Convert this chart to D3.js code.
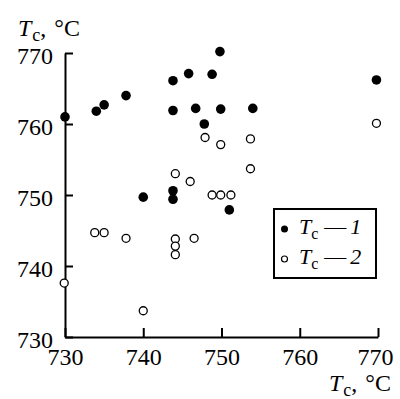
<!DOCTYPE html>
<html>
<head>
<meta charset="utf-8">
<script src="https://cdn.jsdelivr.net/npm/d3@7"></script>
<style>
  body { margin: 0; background: #fff; }
  svg text { font-family: "Liberation Serif", "DejaVu Serif", serif; fill: #000; }
</style>
</head>
<body>
<svg id="chart" width="400" height="399"></svg>
<script>
// Tc - 1 (filled) and Tc - 2 (open) points
const series1X = [730, 734, 735, 737.8, 743.8, 745.8, 743.8, 746.7, 749.8, 748.8, 749.9, 754, 747.8, 769.8, 740, 743.8, 743.8, 751];
const series1Y = [761, 761.8, 762.7, 764, 766.1, 767.1, 761.9, 762.2, 770.2, 767, 762.1, 762.2, 760, 766.2, 749.7, 750.6, 749.4, 747.9];
const series2X = [747.9, 749.9, 753.7, 753.7, 769.8, 748.8, 749.9, 751.2, 744.1, 746, 733.8, 735, 737.8, 744.1, 744.1, 744.1, 746.5, 729.9, 740];
const series2Y = [758.1, 757.1, 757.9, 753.7, 760.1, 750, 750, 750, 753, 751.9, 744.7, 744.7, 743.9, 743.8, 742.8, 741.6, 743.9, 737.6, 733.7];
const xTicks = [730, 740, 750, 760, 770];
const yTicks = [730, 740, 750, 760, 770];

const svg = d3.select("#chart");
const margin = {left: 65, right: 22, top: 53, bottom: 62};
const W = 400, H = 399;

const x = d3.scaleLinear().domain([730, 770]).range([margin.left, W - margin.right]);
const y = d3.scaleLinear().domain([730, 770]).range([H - margin.bottom, margin.top]);

// axes, ticks point inward
const xAxis = svg.append("g")
    .attr("transform", `translate(0,${H - margin.bottom})`)
    .call(d3.axisBottom(x).tickValues(xTicks).tickSize(-9).tickPadding(16).tickSizeOuter(0));
const yAxis = svg.append("g")
    .attr("transform", `translate(${margin.left},0)`)
    .call(d3.axisLeft(y).tickValues(yTicks).tickSize(-8).tickPadding(12).tickSizeOuter(0));

[xAxis, yAxis].forEach(g => {
  g.select(".domain").attr("stroke", "#000").attr("stroke-width", 2);
  g.selectAll(".tick line").attr("stroke", "#000").attr("stroke-width", 2);
  g.selectAll(".tick text")
      .style("font-family", "Liberation Serif")
      .style("font-size", "24px")
      .attr("fill", "#000");
});
yAxis.selectAll(".tick text").attr("dy", "0.45em");
xAxis.selectAll(".tick text").attr("dy", "0.5em");
xAxis.selectAll(".tick text").filter(d => d === 770).attr("dx", -3);

// axis titles
function unitLabel(sel, xPos, yPos) {
  const t = sel.append("text")
      .attr("x", xPos)
      .attr("y", yPos)
      .style("font-size", "24px");
  t.append("tspan").style("font-style", "italic").text("T");
  t.append("tspan").attr("dy", 5).attr("dx", 1).style("font-size", "18px").text("c");
  t.append("tspan").attr("dy", -5).text(",");
  t.append("tspan").attr("dx", 8).text("°C");
}
unitLabel(svg, 18, 36);
unitLabel(svg, 329, 391);

// points
const pts1 = series1X.map((v, i) => [v, series1Y[i]]);
const pts2 = series2X.map((v, i) => [v, series2Y[i]]);

svg.append("g").selectAll("circle").data(pts1).join("circle")
    .attr("cx", d => x(d[0]))
    .attr("cy", d => y(d[1]))
    .attr("r", 4.8)
    .attr("fill", "#000");

svg.append("g").selectAll("circle").data(pts2).join("circle")
    .attr("cx", d => x(d[0]))
    .attr("cy", d => y(d[1]))
    .attr("r", 4)
    .attr("fill", "#fff")
    .attr("stroke", "#000")
    .attr("stroke-width", 1.3);

// legend
const legend = svg.append("g");
legend.append("rect")
    .attr("x", 274)
    .attr("y", 209)
    .attr("width", 102)
    .attr("height", 69)
    .attr("fill", "#fff")
    .attr("stroke", "#000")
    .attr("stroke-width", 2);

const legendItems = [
  {num: "1", filled: true, yPos: 234},
  {num: "2", filled: false, yPos: 264}
];
legendItems.forEach(d => {
  legend.append("circle")
      .attr("cx", 284.5)
      .attr("cy", d.yPos - 5)
      .attr("r", d.filled ? 3.5 : 3)
      .attr("fill", d.filled ? "#000" : "#fff")
      .attr("stroke", "#000")
      .attr("stroke-width", d.filled ? 0 : 1.2);
  const t = legend.append("text")
      .attr("x", 299)
      .attr("y", d.yPos)
      .style("font-size", "22px");
  t.append("tspan").style("font-style", "italic").text("T");
  t.append("tspan").attr("dy", 5).style("font-size", "16px").text("c");
  t.append("tspan").attr("dy", -5).attr("dx", 6).text("—");
  t.append("tspan").attr("dx", 4).style("font-style", "italic").text(d.num);
});
</script>
</body>
</html>
